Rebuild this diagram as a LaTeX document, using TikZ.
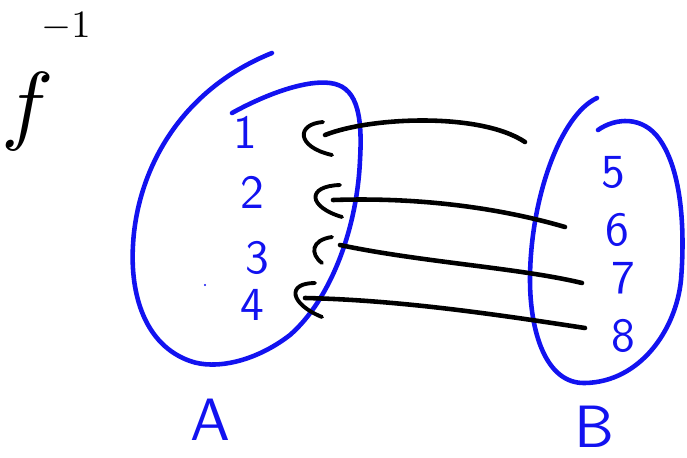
\documentclass[tikz,border=0pt]{standalone}
\usepackage{xcolor}
\definecolor{pen}{RGB}{18,18,240}
\begin{document}
\begin{tikzpicture}[x=0.02cm,y=-0.02cm,
  blueline/.style={draw=pen,line width=2.6pt,line cap=round},
  blackline/.style={draw=black,line width=2.6pt,line cap=round},
  hook/.style={draw=black,line width=2.2pt,line cap=round},
  num/.style={text=pen,font=\sffamily,scale=2.7,inner sep=0pt},
  setlabel/.style={text=pen,font=\sffamily,scale=3.4,inner sep=0pt}]
\useasboundingbox (0,0) rectangle (687,457);
% f^{-1}
\node[scale=5,inner sep=0pt] (f) at (28,112) {$f$};
\node[scale=2.2,inner sep=0pt] (inv) at (66,27) {$-1$};
% set A
\draw[blueline] (232,113) .. controls (270,92) and (308,80) .. (330,83)
  .. controls (355,86) and (363,110) .. (360,160)
  .. controls (357,230) and (330,300) .. (290,335)
  .. controls (255,362) and (215,370) .. (190,361)
  .. controls (145,345) and (130,295) .. (133,245)
  .. controls (137,170) and (180,90) .. (272,53);
% set B
\draw[blueline] (598,130) .. controls (615,118) and (643,115) .. (660,140)
  .. controls (682,172) and (685,230) .. (681,280)
  .. controls (676,330) and (640,382) .. (585,383)
  .. controls (545,384) and (530,330) .. (530,280)
  .. controls (530,200) and (560,115) .. (597,98);
\fill[pen] (205,285) circle (1.2);
% numbers
\node[num] (n1) at (245,132) {1};
\node[num] (n2) at (252,192) {2};
\node[num] (n3) at (257,258) {3};
\node[num] (n4) at (252,305) {4};
\node[num] (n5) at (613,172) {5};
\node[num] (n6) at (617,230) {6};
\node[num] (n7) at (623,278) {7};
\node[num] (n8) at (623,336) {8};
\node[setlabel] (A) at (210,420) {A};
\node[setlabel] (B) at (594,427) {B};
% hooks (arrow heads)
\coordinate (h1a) at (323,122); \coordinate (h1b) at (332,155);
\coordinate (h2a) at (340,185); \coordinate (h2b) at (342,217);
\coordinate (h3a) at (332,237); \coordinate (h3b) at (322,263);
\coordinate (h4a) at (315,283); \coordinate (h4b) at (322,317);
\draw[hook] (h1a) .. controls (296,124) and (296,147) .. (h1b);
\draw[hook] (h2a) .. controls (306,186) and (308,207) .. (h2b);
\draw[hook] (h3a) .. controls (311,240) and (310,254) .. (h3b);
\draw[hook] (h4a) .. controls (286,283) and (290,304) .. (h4b);
% lines
\coordinate (s1) at (325,135); \coordinate (e1) at (525,142);
\coordinate (s2) at (333,200); \coordinate (e2) at (565,227);
\coordinate (s3) at (340,245); \coordinate (e3) at (582,283);
\coordinate (s4) at (305,298); \coordinate (e4) at (585,328);
\draw[blackline] (s1) .. controls (370,117) and (480,112) .. (e1);
\draw[blackline] (s2) .. controls (420,197) and (500,208) .. (e2);
\draw[blackline] (s3) .. controls (420,262) and (520,268) .. (e3);
\draw[blackline] (s4) .. controls (400,300) and (500,315) .. (e4);
\end{tikzpicture}
\end{document}
